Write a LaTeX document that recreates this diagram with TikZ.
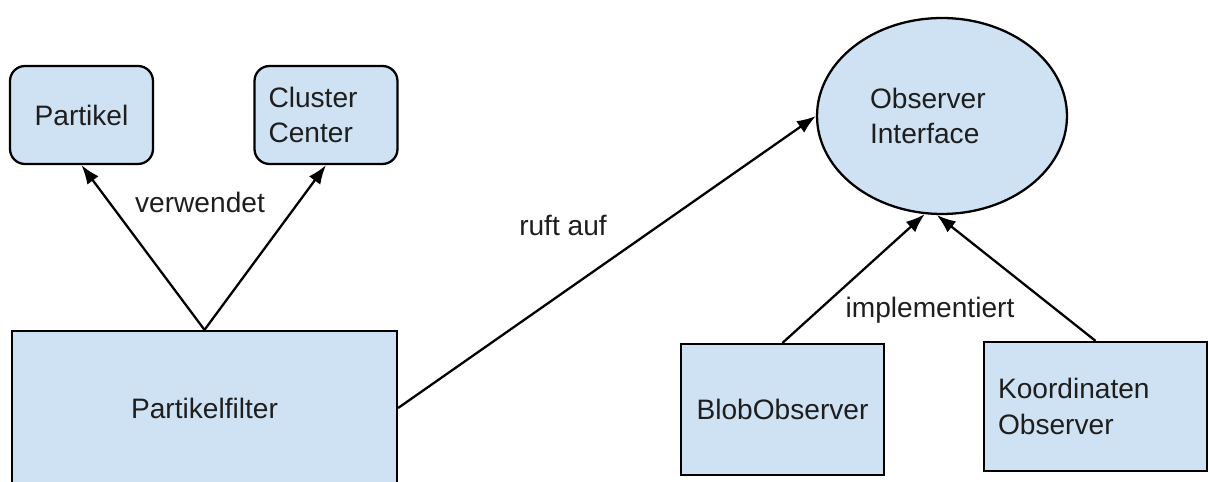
\documentclass[tikz,border=0pt]{standalone}
\usepackage{fontspec}
\setmainfont{Liberation Sans}
\usepackage{tikz}
\usetikzlibrary{arrows.meta,positioning,shapes}
\definecolor{boxBlue}{HTML}{CFE2F3}
\definecolor{inkGrey}{HTML}{1E1E1E}

\begin{document}
\begin{tikzpicture}[x=0.02cm,y=-0.02cm,font=\fontsize{16}{20}\selectfont,
    box/.style={draw=black,line width=1.3pt,fill=boxBlue,text=inkGrey,inner sep=0pt},
    roundbox/.style={box,rounded corners=0.3cm,minimum width=2.86cm,minimum height=1.96cm},
    obsbox/.style={box,ellipse,minimum width=5cm,minimum height=3.92cm},
    conn/.style={-{Latex[length=3.8mm,width=2.8mm]},line width=1.3pt,black}]
  \useasboundingbox (0,0) rectangle (1210,482);
  \node[roundbox] (partikel) at (81.5,115) {Partikel};
  \node[roundbox,text width=2.3cm,align=left] (cluster) at (326,115) {Cluster\\Center};
  \node[box,minimum width=7.7cm,minimum height=3.08cm] (filter) at (204.5,408) {Partikelfilter};
  \node[obsbox,text width=2.88cm,align=left] (observer) at (942,116) {Observer\\Interface};
  \node[box,minimum width=4.06cm,minimum height=2.62cm] (blob) at (782.5,409.5) {BlobObserver};
  \node[box,minimum width=4.46cm,minimum height=2.58cm,text width=3.9cm,align=left] (koord) at (1095.5,406.5) {Koordinaten\\Observer};
  \draw[conn] (filter.north) -- (partikel.south);
  \draw[conn] (filter.north) -- (cluster.south);
  \draw[conn] (filter.east) -- (observer.west);
  \draw[conn] (blob.north) -- (observer.260);
  \draw[conn] (koord.north) -- (observer.267);
  \node[text=inkGrey] (verwendet) at (200,202) {verwendet};
  \node[text=inkGrey] (ruftauf) at (563,225) {ruft auf};
  \node[text=inkGrey] (implementiert) at (930,310) {implementiert};
\end{tikzpicture}
\end{document}
